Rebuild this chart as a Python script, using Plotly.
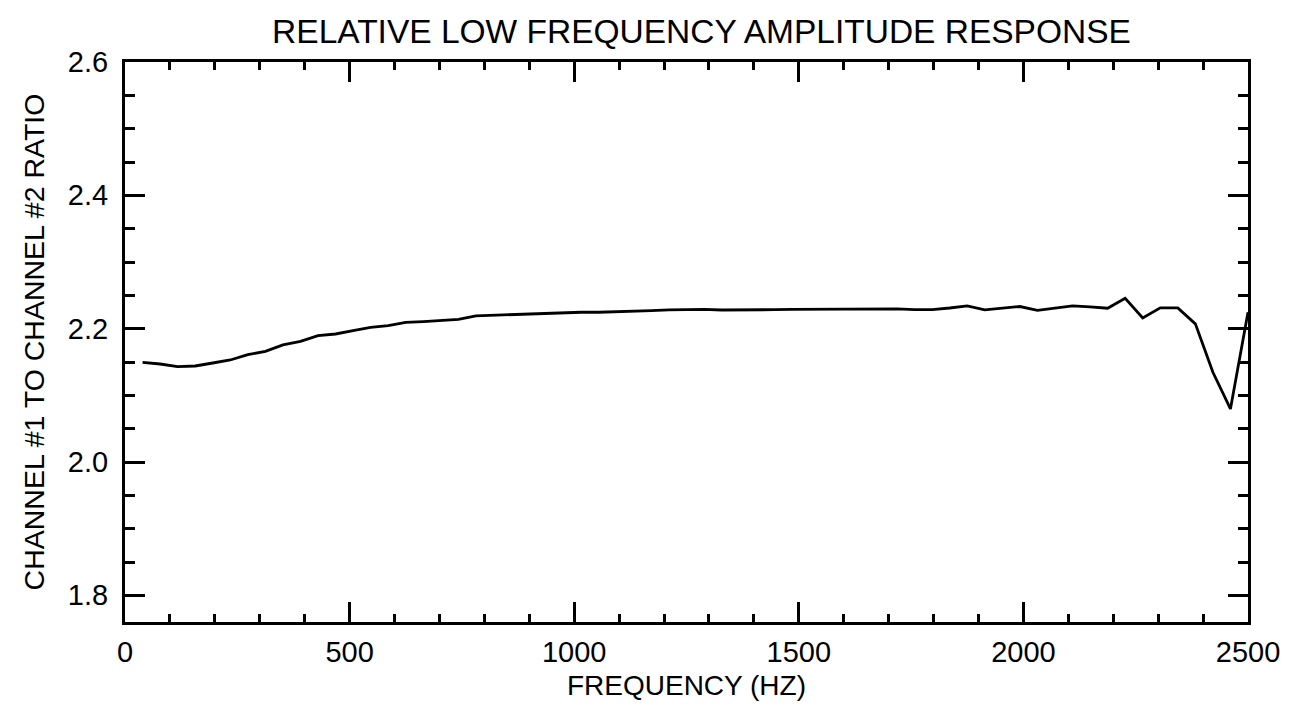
import plotly.graph_objects as go

# Frequency samples (Hz): 64 bins of 39.0625 Hz
freq_hz = [39.0625 * k for k in range(1, 65)]
ratio = [
    2.1495, 2.147, 2.1431, 2.144, 2.1485, 2.153, 2.161, 2.166, 2.1757, 2.181,
    2.1896, 2.192, 2.197, 2.202, 2.2047, 2.2096, 2.2107, 2.2126, 2.214, 2.2192,
    2.2201, 2.2207, 2.2216, 2.2231, 2.2242, 2.2246, 2.2246, 2.2252, 2.2261, 2.2272,
    2.2282, 2.2287, 2.229, 2.228, 2.2285, 2.2285, 2.2285, 2.2288, 2.229, 2.229,
    2.229, 2.2297, 2.229, 2.2297, 2.2285, 2.2285, 2.231, 2.2342, 2.2282, 2.2302,
    2.2332, 2.2276, 2.2306, 2.2342, 2.2327, 2.2306, 2.2456, 2.2162, 2.2312, 2.2312,
    2.2072, 2.1345, 2.0796, 2.2246,
]

title_text = "RELATIVE LOW FREQUENCY AMPLITUDE RESPONSE"
x_title = "FREQUENCY (HZ)"
y_title = "CHANNEL #1 TO CHANNEL #2 RATIO"

FONT = "Liberation Sans, Arial, sans-serif"

fig = go.Figure(
    go.Scatter(x=freq_hz, y=ratio, mode="lines",
               line=dict(color="black", width=2.8), showlegend=False)
)

fig.update_layout(
    width=1293, height=711,
    margin=dict(l=117, r=53, t=54, b=97, autoexpand=False),
    paper_bgcolor="white", plot_bgcolor="white",
    font=dict(family=FONT, color="black", size=28),
    title=dict(text=title_text, x=0.5 + 15 / 1123, xanchor="center", xref="paper",
               y=1 - 23 / 711, yanchor="middle", yref="container",
               font=dict(size=33.5, family=FONT, color="black")),
)

fig.update_xaxes(
    automargin=False,
    range=[0, 2500], tick0=0, dtick=500,
    ticks="inside", ticklen=20, tickwidth=2.8, tickcolor="black",
    showline=True, linewidth=3, linecolor="black", mirror="ticks",
    showgrid=False, zeroline=False,
    tickfont=dict(size=29, family=FONT),
    ticklabelstandoff=2,
    minor=dict(dtick=100, ticks="inside", ticklen=8, tickwidth=2.8, tickcolor="black", showgrid=False),
    title=dict(text=x_title, standoff=9, font=dict(size=28, family=FONT)),
)
fig.update_yaxes(
    automargin=False,
    range=[1.76, 2.6], tick0=1.8, dtick=0.2, tickformat=".1f",
    ticks="inside", ticklen=20, tickwidth=2.8, tickcolor="black",
    showline=True, linewidth=3, linecolor="black", mirror="ticks",
    showgrid=False, zeroline=False,
    tickfont=dict(size=29, family=FONT),
    ticklabelstandoff=8,
    minor=dict(dtick=0.05, ticks="inside", ticklen=10, tickwidth=2.8, tickcolor="black", showgrid=False),
    title=dict(text=y_title, standoff=15, font=dict(size=28.5, family=FONT)),
)

fig.write_html("out.html")
